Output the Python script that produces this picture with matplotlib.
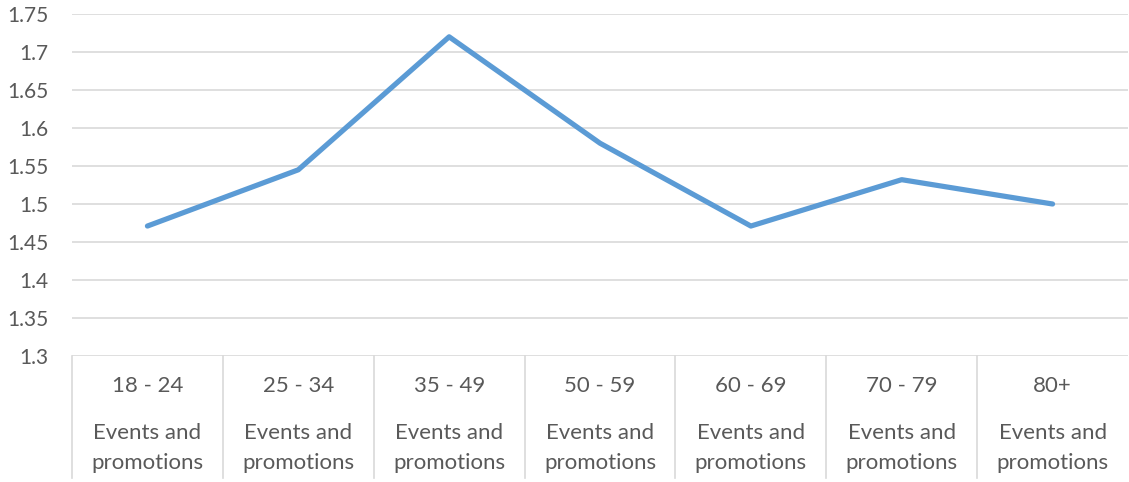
import matplotlib.pyplot as plt
import matplotlib.transforms as mtransforms

age_groups = ["18 - 24", "25 - 34", "35 - 49", "50 - 59", "60 - 69", "70 - 79", "80+"]
channel_top = "Events and"
channel_bottom = "promotions"
scores = [1.471, 1.545, 1.72, 1.58, 1.471, 1.532, 1.50]
y_ticks = [1.3, 1.35, 1.4, 1.45, 1.5, 1.55, 1.6, 1.65, 1.7, 1.75]
y_tick_labels = ["1.3", "1.35", "1.4", "1.45", "1.5", "1.55", "1.6", "1.65", "1.7", "1.75"]

plt.rcParams['font.family'] = ['Lato', 'DejaVu Sans']
text_col = "#595959"
grid_col = "#D9D9D9"

W, H = 1129, 482
fig = plt.figure(figsize=(W / 100, H / 100), dpi=100)
ax = fig.add_axes([72 / W, (H - 356) / H, (1128 - 72) / W, (356 - 14) / H])

xs = list(range(len(age_groups)))
ax.plot(xs, scores, color="#5B9BD5", lw=3.75, solid_joinstyle="round",
        solid_capstyle="round", zorder=3)

ax.set_xlim(-0.5, len(age_groups) - 0.5)
ax.set_ylim(1.3, 1.75)
ax.set_yticks(y_ticks)
ax.set_yticklabels(y_tick_labels, fontsize=15, color=text_col)
ax.tick_params(axis="y", length=0, pad=17)
ax.set_xticks([])
for s in ax.spines.values():
    s.set_visible(False)
for y in y_ticks:
    ax.axhline(y, color=grid_col, lw=1.2, zorder=1)

# category boxes under the axis
trans = mtransforms.blended_transform_factory(ax.transData, ax.transAxes)
bottom = (356 - 478) / 342
for i in range(len(age_groups)):
    ax.plot([i - 0.5, i - 0.5], [0, bottom], color=grid_col, lw=1.2,
            transform=trans, clip_on=False)
for i, g in enumerate(age_groups):
    ax.text(i, (356 - 386) / 342, g, transform=trans, ha="center", va="center",
            fontsize=16, color=text_col)
    ax.text(i, (356 - 433) / 342, channel_top, transform=trans, ha="center",
            va="center", fontsize=16, color=text_col)
    ax.text(i, (356 - 463) / 342, channel_bottom, transform=trans, ha="center",
            va="center", fontsize=16, color=text_col)

fig.savefig("out.png", dpi=100)
